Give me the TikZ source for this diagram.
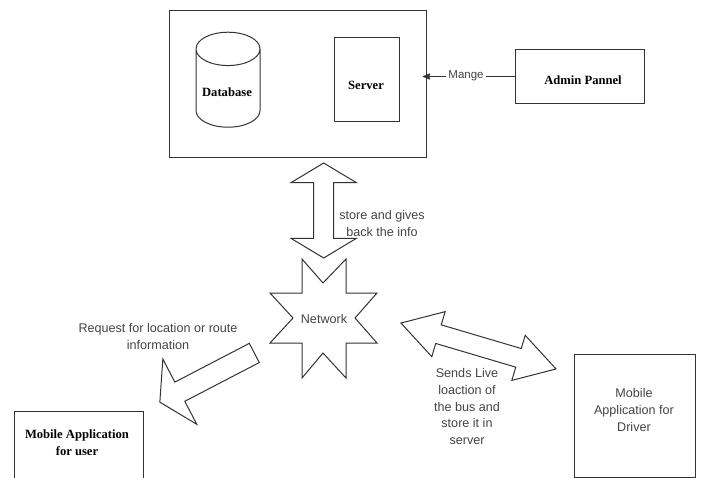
\documentclass[tikz,border=0pt]{standalone}
\usepackage{fontspec}
\setmainfont{Liberation Serif}
\setsansfont{Liberation Sans}
\usetikzlibrary{arrows,shapes.geometric,shapes.arrows}
\definecolor{linegray}{HTML}{333333}
\definecolor{textgray}{HTML}{444444}

\begin{document}
\begin{tikzpicture}
	[x=1pt,y=-1pt,>=stealth',line width=1pt,color=linegray,
		box node/.style={rectangle,draw,anchor=north west},
		bold node/.style={align=center,text=black,font=\fontsize{12.6}{17}\selectfont\bfseries},
		sans node/.style={align=center,text=textgray,font=\fontsize{12.6}{16.7}\selectfont\sffamily},
		block arrow/.style={draw,minimum size=0pt}]

	\clip (0,0) rectangle (702,477);

	% system box
	\node[box node, minimum width=257pt, minimum height=147pt] (main) at (169,10) {};
	\node[cylinder, draw, shape border rotate=90, aspect=5, minimum width=64pt, minimum height=95pt] (db) at (228,92) {};
	\node[bold node] (dbtext) at (227,92) {Database};
	\node[box node, minimum width=65pt, minimum height=84pt] (server) at (334,37) {};
	\node[bold node] (servertext) at (366,85) {Server};

	% admin
	\node[box node, minimum width=129pt, minimum height=54pt] (admin) at (515,49) {};
	\node[bold node] (admintext) at (583,80) {Admin Pannel};
	\draw[->,line width=1.5pt,shorten >=-4pt] (admin.west) -- (admin.west -| main.east);
	\node[sans node, fill=white, inner sep=2pt, font=\fontsize{11.5}{14}\selectfont\sffamily] (mange) at (466,76) {Mange};

	% network
	\draw (302,259) -- (323,283) -- (346,259) -- (346,293) -- (377,293) -- (355,318)
		-- (377,343) -- (346,343) -- (346,378) -- (323,353) -- (302,378) -- (302,343)
		-- (270,343) -- (293,318) -- (270,293) -- (302,293) -- cycle;
	\node[sans node] (network) at (324,319) {Network};

	% block arrows
	\node[block arrow, double arrow, rotate=90, inner sep=9.5pt, minimum height=95pt, minimum width=64pt,
		double arrow head extend=22.5pt, double arrow tip angle=118, double arrow head indent=0pt] (storearrow) at (323.7,210.5) {};
	\node[block arrow, single arrow, rotate=207.5, inner sep=10.3pt, minimum height=106.5pt, minimum width=72.6pt,
		single arrow head extend=26pt, single arrow tip angle=117, single arrow head indent=0pt] (userarrow) at (210,376) {};
	\node[block arrow, double arrow, rotate=-16.5, inner sep=9.2pt, minimum height=161.7pt, minimum width=46pt,
		double arrow head extend=13.8pt, double arrow tip angle=62, double arrow head indent=0pt] (driverarrow) at (478.5,346) {};

	\node[sans node] (storetext) at (382,223.5) {store and gives\\back the info};
	\node[sans node] (usertext) at (158,336.5) {Request for location or route\\information};
	\node[sans node] (drivertext) at (467,406.5) {Sends Live\\loaction of\\the bus and\\store it in\\server};

	% mobile applications
	\node[box node, minimum width=129pt, minimum height=90pt] (user) at (14,411) {};
	\node[bold node] (usertitle) at (77,442.5) {Mobile Application\\for user};
	\node[box node, minimum width=121pt, minimum height=123pt] (driver) at (574,354) {};
	\node[sans node] (drivertitle) at (634,410) {Mobile\\Application for\\Driver};
\end{tikzpicture}
\end{document}
